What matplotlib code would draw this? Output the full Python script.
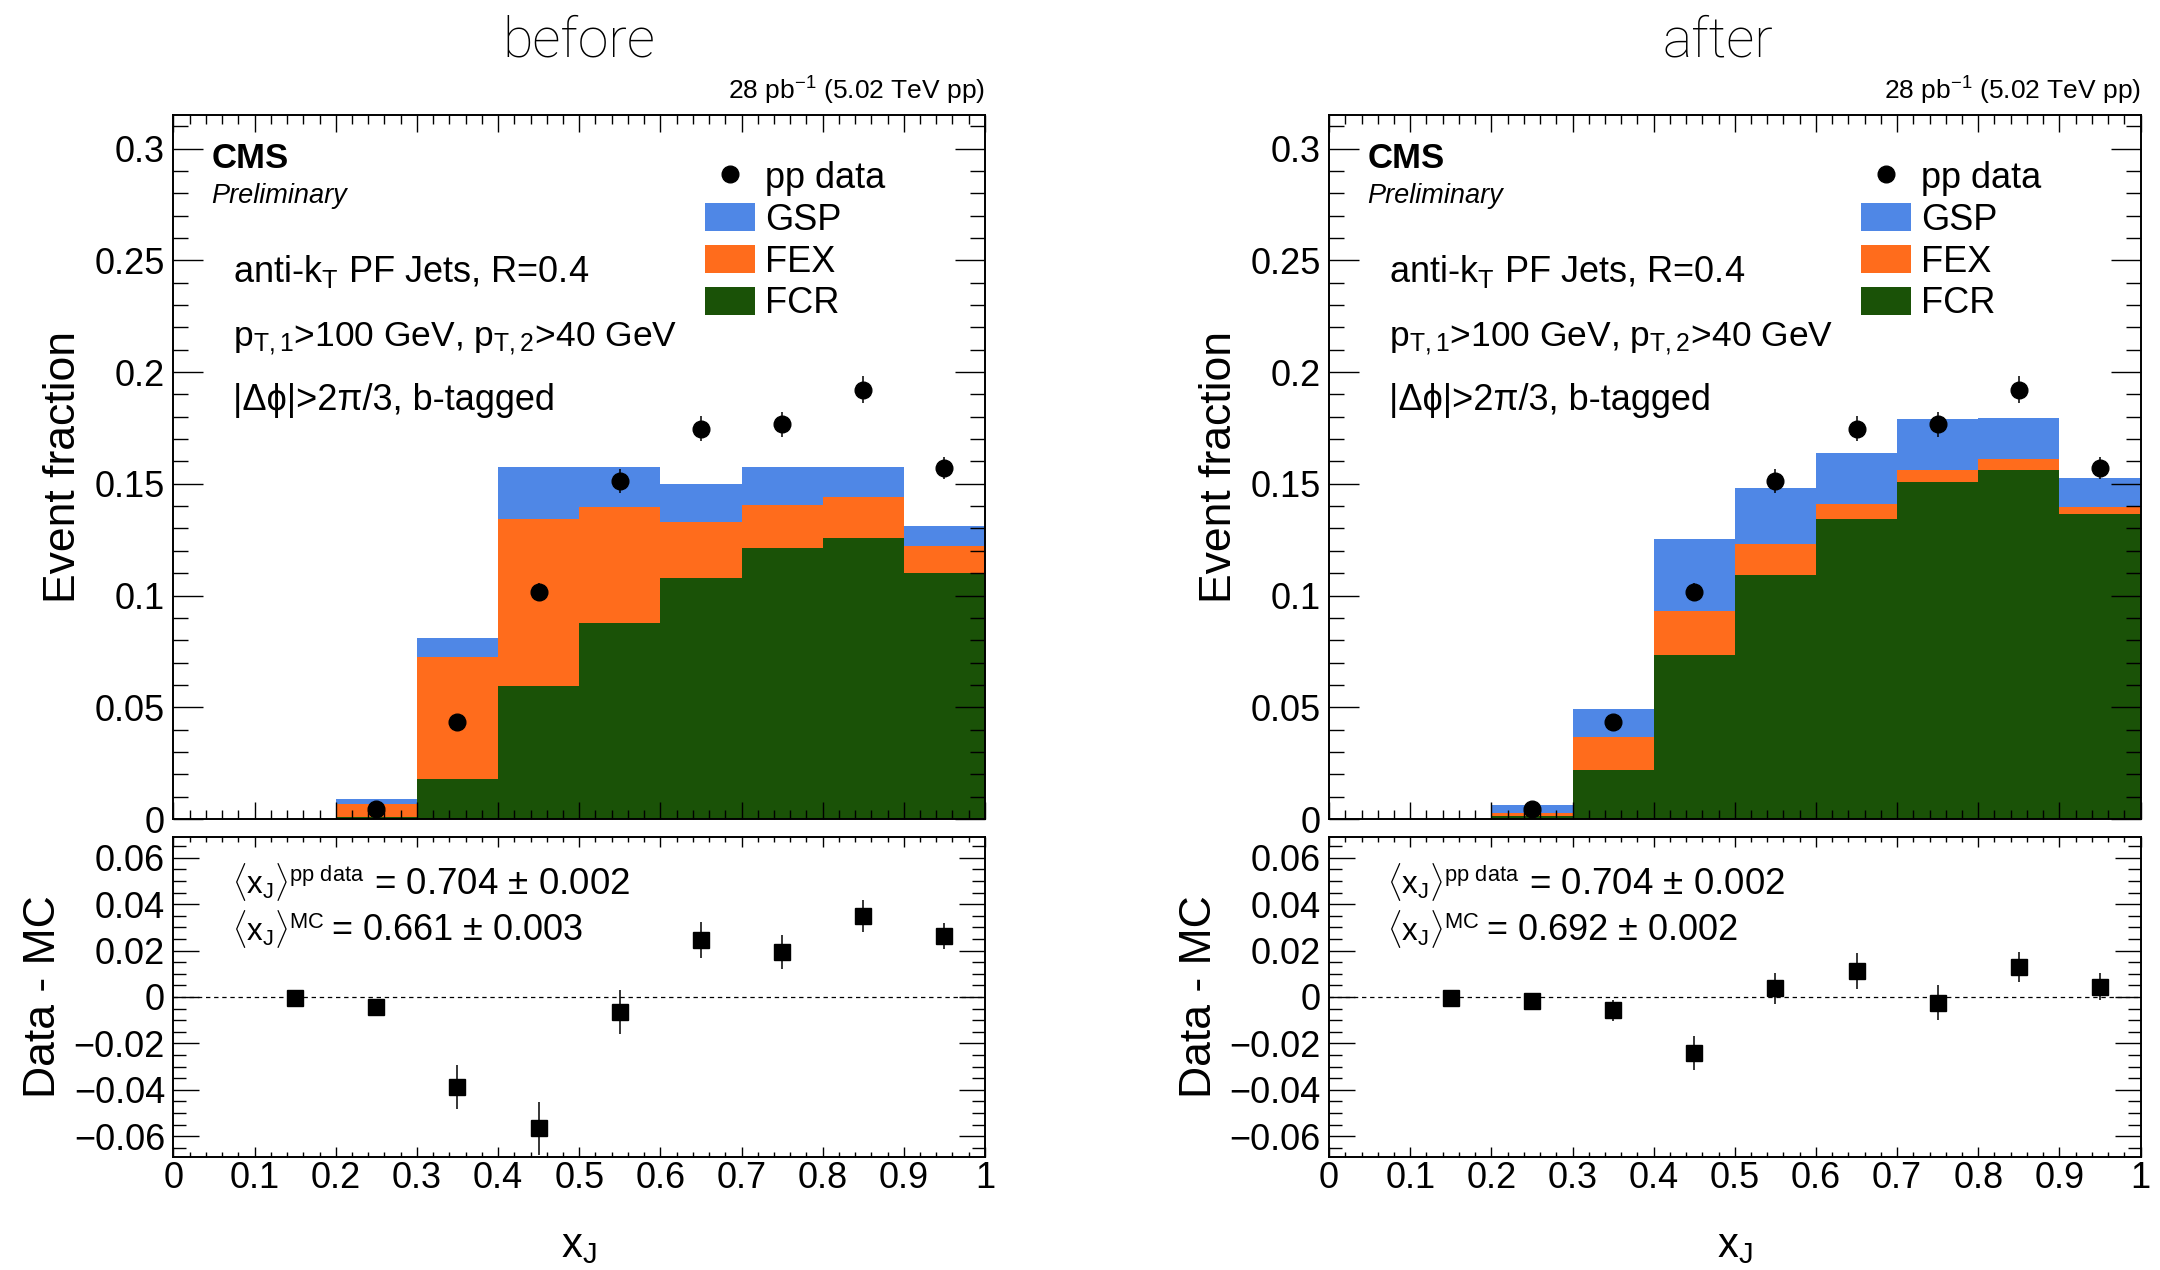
import numpy as np
import matplotlib
matplotlib.use('Agg')
import matplotlib.pyplot as plt
from matplotlib.ticker import MultipleLocator, FuncFormatter
from matplotlib.patches import Patch
from matplotlib.lines import Line2D

plt.rcParams['font.family'] = ['Liberation Sans', 'DejaVu Sans']
plt.rcParams['mathtext.fontset'] = 'custom'
plt.rcParams['mathtext.rm'] = 'Liberation Sans'
plt.rcParams['mathtext.it'] = 'Liberation Sans:italic'
plt.rcParams['mathtext.bf'] = 'Liberation Sans:bold'

## x_J binning
xj_edges = [0.0, 0.1, 0.2, 0.3, 0.4, 0.5, 0.6, 0.7, 0.8, 0.9, 1.0]

## pp data (same in both panels)
data_x = [0.25, 0.35, 0.45, 0.55, 0.65, 0.75, 0.85, 0.95]
data_y = [0.0045, 0.0432, 0.1015, 0.1513, 0.1747, 0.1766, 0.1921, 0.1571]
data_err = [0.001, 0.003, 0.004, 0.0055, 0.0056, 0.0055, 0.006, 0.005]

## MC components per bin, before reweighting
fcr_before = [0, 0, 0.0010, 0.0180, 0.0594, 0.0877, 0.1079, 0.1214, 0.1256, 0.1100]
fex_before = [0, 0, 0.0057, 0.0543, 0.0748, 0.0517, 0.0251, 0.0189, 0.0184, 0.0120]
gsp_before = [0, 0, 0.0023, 0.0088, 0.0235, 0.0183, 0.0170, 0.0174, 0.0137, 0.0091]

## MC components per bin, after reweighting
fcr_after = [0, 0, 0.0013, 0.0221, 0.0732, 0.1092, 0.1342, 0.1509, 0.1562, 0.1366]
fex_after = [0, 0, 0.0012, 0.0146, 0.0200, 0.0137, 0.0066, 0.0053, 0.0048, 0.0031]
gsp_after = [0, 0, 0.0038, 0.0124, 0.0321, 0.0251, 0.0229, 0.0226, 0.0185, 0.0129]

## Data - MC
diff_x = [0.15, 0.25, 0.35, 0.45, 0.55, 0.65, 0.75, 0.85, 0.95]
diff_before = [-0.0004, -0.0044, -0.0388, -0.0567, -0.0066, 0.0245, 0.0193, 0.0348, 0.0263]
diff_err_before = [0.001, 0.0015, 0.0094, 0.0116, 0.0094, 0.0078, 0.0072, 0.0069, 0.0057]
diff_after = [-0.0004, -0.0016, -0.0057, -0.0243, 0.0037, 0.0111, -0.0024, 0.0129, 0.0045]
diff_err_after = [0.001, 0.0015, 0.0045, 0.0074, 0.0068, 0.0077, 0.0077, 0.0065, 0.0057]

## mean x_J
mean_data = '= 0.704 $\\pm$ 0.002'
mean_mc_before = '= 0.661 $\\pm$ 0.003'
mean_mc_after = '= 0.692 $\\pm$ 0.002'

C_GSP = '#4f87e6'
C_FEX = '#ff6c1c'
C_FCR = '#1a5207'

W, H = 2160, 1270
fig = plt.figure(figsize=(W / 100, H / 100), dpi=100)

fmt = FuncFormatter(lambda v, p: ('%g' % (round(v, 4) + 0)).replace('-', '\u2212'))


def style_axis(ax, ymaj, ymin, ylen, xlen):
    for s in ax.spines.values():
        s.set_linewidth(1.4)
    ax.set_xlim(0, 1)
    ax.xaxis.set_major_locator(MultipleLocator(0.1))
    ax.xaxis.set_minor_locator(MultipleLocator(0.02))
    ax.yaxis.set_major_locator(MultipleLocator(ymaj))
    ax.yaxis.set_minor_locator(MultipleLocator(ymin))
    ax.xaxis.set_major_formatter(fmt)
    ax.yaxis.set_major_formatter(fmt)
    ax.tick_params(which='both', direction='in', top=True, right=True,
                   width=1.0, labelsize=26)
    ax.tick_params(axis='y', which='major', length=ylen, pad=6)
    ax.tick_params(axis='y', which='minor', length=ylen / 2)
    ax.tick_params(axis='x', which='major', length=xlen, pad=3)
    ax.tick_params(axis='x', which='minor', length=xlen / 2)


def draw_panel(x0, fcr, fex, gsp, diff, diff_err, mean_mc, title, title_x):
    w = 0.3757
    ax = fig.add_axes([x0, 0.3551, w, 0.5543])
    rax = fig.add_axes([x0, 0.0890, w, 0.2520])

    # stacked MC histogram
    left = np.array(xj_edges[:-1])
    width = np.diff(xj_edges)
    fcr = np.array(fcr)
    fex = np.array(fex)
    gsp = np.array(gsp)
    ax.bar(left, fcr, width=width, align='edge', color=C_FCR, lw=0, zorder=1)
    ax.bar(left, fex, width=width, align='edge', bottom=fcr, color=C_FEX, lw=0, zorder=1)
    ax.bar(left, gsp, width=width, align='edge', bottom=fcr + fex, color=C_GSP, lw=0, zorder=1)

    ax.errorbar(data_x, data_y, yerr=data_err, fmt='o', color='black', ms=12,
                elinewidth=1.1, capsize=0, zorder=3)

    ax.set_ylim(0, 0.315)
    style_axis(ax, 0.05, 0.01, 21.6, 12.5)
    ax.tick_params(labelbottom=False)
    ax.set_ylabel('Event fraction', fontsize=32, va='baseline')
    ax.yaxis.set_label_coords(-0.1214, 0.5)

    ax.text(0.0471, 0.9243, 'CMS', transform=ax.transAxes, fontsize=25,
            fontweight='bold', va='baseline')
    ax.text(0.0471, 0.875, 'Preliminary', transform=ax.transAxes, fontsize=19.5,
            fontstyle='italic', va='baseline')
    ax.text(0.0733, 0.7624, 'anti-k$_{\\mathrm{T}}$ PF Jets, R=0.4',
            transform=ax.transAxes, fontsize=26, va='baseline')
    ax.text(0.0733, 0.6709, 'p$_{\\mathrm{T,1}}$>100 GeV, p$_{\\mathrm{T,2}}$>40 GeV',
            transform=ax.transAxes, fontsize=25.5, va='baseline')
    ax.text(0.0733, 0.581, '|\u0394\u03d5|>2\u03c0/3, b-tagged',
            transform=ax.transAxes, fontsize=26, va='baseline')
    ax.text(1.0, 1.0213, '28 pb$^{\\mathrm{-1}}$ (5.02 TeV pp)', transform=ax.transAxes,
            fontsize=19, ha='right', va='baseline')

    handles = [Line2D([], [], ls='none', marker='o', ms=12, color='black'),
               Patch(facecolor=C_GSP, lw=0),
               Patch(facecolor=C_FEX, lw=0),
               Patch(facecolor=C_FCR, lw=0)]
    ax.legend(handles, ['pp data', 'GSP', 'FEX', 'FCR'], loc='upper left',
              bbox_to_anchor=(0.655, 0.935), frameon=False, fontsize=26,
              handlelength=1.39, handleheight=0.83, labelspacing=0.19,
              handletextpad=0.28, borderpad=0, borderaxespad=0)

    # data - MC
    rax.axhline(0, color='black', lw=0.9, ls=(0, (3.5, 3)), zorder=1)
    rax.errorbar(diff_x, diff, yerr=diff_err, fmt='s', color='black', ms=11.3,
                 elinewidth=1.1, capsize=0, zorder=3)
    rax.set_ylim(-0.069, 0.069)
    style_axis(rax, 0.02, 0.005, 18.7, 7.2)
    rax.set_ylabel('Data - MC', fontsize=32, va='baseline')
    rax.yaxis.set_label_coords(-0.146, 0.5)
    rax.set_xlabel('x$_{\\mathrm{J}}$', fontsize=30, va='baseline')
    rax.xaxis.set_label_coords(0.5, -0.3125)

    rax.text(0.0717, 0.822, '$\\langle$x$_{\\mathrm{J}}\\rangle^{\\mathrm{pp\\ data}}$',
             transform=rax.transAxes, fontsize=22.5, va='baseline')
    rax.text(0.247, 0.822, mean_data, transform=rax.transAxes, fontsize=26.5,
             va='baseline')
    rax.text(0.0717, 0.678, '$\\langle$x$_{\\mathrm{J}}\\rangle^{\\mathrm{MC}}$',
             transform=rax.transAxes, fontsize=22.5, va='baseline')
    rax.text(0.194, 0.678, mean_mc, transform=rax.transAxes, fontsize=26,
             va='baseline')

    fig.text(title_x / W, 1 - 56.7 / H, title, ha='center', va='baseline',
             fontsize=40, family='Roboto', fontweight='light')


draw_panel(0.0803, fcr_before, fex_before, gsp_before, diff_before, diff_err_before,
           mean_mc_before, 'before', 579)
draw_panel(0.6153, fcr_after, fex_after, gsp_after, diff_after, diff_err_after,
           mean_mc_after, 'after', 1718)

fig.savefig('out.png', dpi=100)
